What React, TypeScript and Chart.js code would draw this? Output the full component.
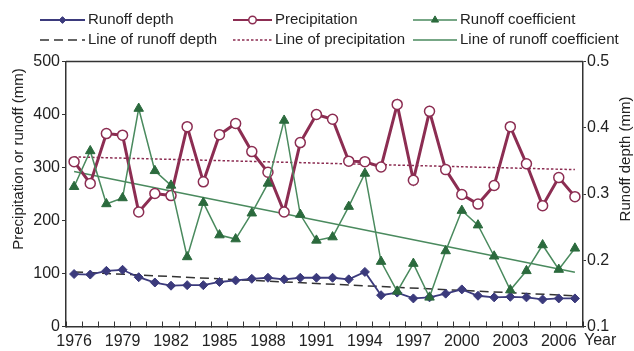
import React, { useEffect, useRef } from 'react';
import { Chart, registerables } from 'chart.js';
import { drawPoint } from 'chart.js/helpers';

Chart.register(...registerables);

const years = [
  '1976', '1977', '1978', '1979', '1980', '1981', '1982', '1983', '1984', '1985',
  '1986', '1987', '1988', '1989', '1990', '1991', '1992', '1993', '1994', '1995',
  '1996', '1997', '1998', '1999', '2000', '2001', '2002', '2003', '2004', '2005',
  '2006', '2007',
];

const runoffDepth = [
  99, 98, 105, 107, 93, 83, 77, 78, 78, 84,
  87, 90, 92, 89, 92, 92, 92, 89, 103, 59,
  64, 53, 55, 62, 70, 58, 55, 56, 55, 51,
  53, 53,
];

const precipitation = [
  311, 270, 364, 361, 216, 251, 247, 377, 273, 362,
  383, 330, 291, 216, 347, 400, 391, 312, 311, 301,
  419, 276, 406, 296, 249, 231, 266, 377, 307, 228,
  281, 245,
];

const runoffCoefficient = [
  0.311, 0.365, 0.285, 0.294, 0.429, 0.335, 0.313, 0.205, 0.287, 0.238,
  0.232, 0.271, 0.316, 0.411, 0.269, 0.23, 0.235, 0.281, 0.331, 0.198,
  0.153, 0.195, 0.144, 0.214, 0.275, 0.253, 0.206, 0.155, 0.184, 0.223,
  0.186, 0.218,
];

// Linear trend lines: values at the first and last year
const runoffDepthTrendEnds = [103, 58];
const precipitationTrendEnds = [320, 296];
const runoffCoefficientTrendEnds = [0.334, 0.182];

const leftTicks = [0, 100, 200, 300, 400, 500];
const rightTicks = [0.1, 0.2, 0.3, 0.4, 0.5];

const seriesLabels = [
  'Runoff depth',
  'Precipitation',
  'Runoff coefficient',
  'Line of runoff depth',
  'Line of precipitation',
  'Line of runoff coefficient',
];
const leftTitle = 'Precipitation or runoff (mm)';
const rightTitle = 'Runoff depth (mm)';
const xTitle = 'Year';

const FONT = '"Liberation Sans", Arial, Helvetica, sans-serif';
const TEXT = '#222';
const AXIS = '#333';
const BLUE = '#3b3a7c';
const MAROON = '#8c2d52';
const GREEN = '#4a8a5e';
const GREEN_DARK = '#2b6a3d';

function trendSeries(ends: number[]) {
  return years.map((_, i) => (i === 0 ? ends[0] : i === years.length - 1 ? ends[1] : null));
}

const overlayPlugin = {
  id: 'overlay',
  afterDraw(chart: any) {
    const ctx: CanvasRenderingContext2D = chart.ctx;
    const area = chart.chartArea;
    ctx.save();
    // top border of the plot box
    ctx.strokeStyle = AXIS;
    ctx.lineWidth = 1.5;
    ctx.beginPath();
    ctx.moveTo(area.left, area.top);
    ctx.lineTo(area.right, area.top);
    ctx.stroke();

    // legend
    const colX = [40, 233, 413];
    const colLen = [45, 39, 44];
    const colText = [88, 275, 460];
    const rowY = [20, 40];
    ctx.font = `15px ${FONT}`;
    ctx.textBaseline = 'middle';
    ctx.textAlign = 'left';
    chart.data.datasets.forEach((ds: any, i: number) => {
      const c = i % 3;
      const r = Math.floor(i / 3);
      const y = rowY[r];
      const x0 = colX[c];
      const x1 = x0 + colLen[c];
      ctx.save();
      ctx.strokeStyle = ds.borderColor;
      ctx.lineWidth = Math.min(ds.borderWidth, 2);
      ctx.setLineDash(ds.borderDash || []);
      ctx.beginPath();
      ctx.moveTo(x0, y);
      ctx.lineTo(x1, y);
      ctx.stroke();
      ctx.setLineDash([]);
      if (ds.pointRadius > 0) {
        ctx.fillStyle = ds.pointBackgroundColor;
        ctx.strokeStyle = ds.pointBorderColor;
        ctx.lineWidth = ds.pointBorderWidth;
        drawPoint(
          ctx,
          { pointStyle: ds.pointStyle, radius: ds.pointRadius * 0.75, rotation: 0, borderWidth: ds.pointBorderWidth },
          (x0 + x1) / 2,
          y
        );
      }
      ctx.restore();
      ctx.fillStyle = TEXT;
      ctx.fillText(ds.label, colText[c], y);
    });

    // axis titles
    ctx.font = `15px ${FONT}`;
    ctx.fillStyle = TEXT;
    ctx.textAlign = 'center';
    ctx.textBaseline = 'middle';
    ctx.save();
    ctx.translate(19, 159);
    ctx.rotate(-Math.PI / 2);
    ctx.fillText(leftTitle, 0, 0);
    ctx.restore();
    ctx.save();
    ctx.translate(626, 159);
    ctx.rotate(-Math.PI / 2);
    ctx.fillText(rightTitle, 0, 0);
    ctx.restore();

    ctx.font = `16px ${FONT}`;
    ctx.textAlign = 'left';
    ctx.fillText(xTitle, 584, 341);
    ctx.restore();
  },
};

export default function App() {
  const ref = useRef<HTMLCanvasElement | null>(null);

  useEffect(() => {
    document.body.style.margin = '0';
    if (!ref.current) return;
    const chart = new Chart(ref.current, {
      type: 'line',
      data: {
        labels: years,
        datasets: [
          {
            label: seriesLabels[0],
            data: runoffDepth,
            yAxisID: 'y',
            borderColor: BLUE,
            borderWidth: 1.8,
            pointStyle: 'rectRot',
            pointRadius: 4.5,
            pointBackgroundColor: BLUE,
            pointBorderColor: BLUE,
            pointBorderWidth: 1,
            order: 2,
          },
          {
            label: seriesLabels[1],
            data: precipitation,
            yAxisID: 'y',
            borderColor: MAROON,
            borderWidth: 3,
            pointStyle: 'circle',
            pointRadius: 5,
            pointBackgroundColor: '#ffffff',
            pointBorderColor: MAROON,
            pointBorderWidth: 1.5,
            order: 3,
          },
          {
            label: seriesLabels[2],
            data: runoffCoefficient,
            yAxisID: 'y1',
            borderColor: GREEN,
            borderWidth: 1.5,
            pointStyle: 'triangle',
            pointRadius: 5.5,
            pointBackgroundColor: GREEN_DARK,
            pointBorderColor: GREEN_DARK,
            pointBorderWidth: 1,
            order: 1,
          },
          {
            label: seriesLabels[3],
            data: trendSeries(runoffDepthTrendEnds),
            yAxisID: 'y',
            borderColor: AXIS,
            borderWidth: 1.5,
            borderDash: [9, 5],
            pointRadius: 0,
            spanGaps: true,
            order: 4,
          },
          {
            label: seriesLabels[4],
            data: trendSeries(precipitationTrendEnds),
            yAxisID: 'y',
            borderColor: MAROON,
            borderWidth: 1.5,
            borderDash: [2.5, 2],
            pointRadius: 0,
            spanGaps: true,
            order: 5,
          },
          {
            label: seriesLabels[5],
            data: trendSeries(runoffCoefficientTrendEnds),
            yAxisID: 'y1',
            borderColor: GREEN,
            borderWidth: 1.5,
            pointRadius: 0,
            spanGaps: true,
            order: 6,
          },
        ] as any,
      },
      options: {
        animation: false,
        responsive: true,
        maintainAspectRatio: false,
        layout: { padding: { top: 61.5, left: 0, right: 0, bottom: 0 } },
        plugins: {
          legend: { display: false },
          tooltip: { enabled: false },
        },
        scales: {
          x: {
            type: 'category',
            offset: true,
            grid: {
              offset: true,
              drawOnChartArea: false,
              drawTicks: true,
              tickLength: -5,
              color: AXIS,
              lineWidth: 1,
            },
            border: { color: AXIS, width: 1.5 },
            ticks: {
              autoSkip: false,
              maxRotation: 0,
              minRotation: 0,
              padding: 10,
              color: TEXT,
              font: { family: FONT, size: 16 },
              callback: (_v: any, i: number) => (i % 3 === 0 ? years[i] : ''),
            },
            afterFit: (s: any) => {
              s.height = 24.5;
            },
          } as any,
          y: {
            position: 'left',
            min: 0,
            max: 500,
            afterBuildTicks: (s: any) => {
              s.ticks = leftTicks.map((v) => ({ value: v }));
            },
            grid: { drawOnChartArea: false, drawTicks: true, tickLength: 4, color: AXIS },
            border: { color: AXIS, width: 1.5 },
            ticks: {
              padding: 2,
              color: TEXT,
              font: { family: FONT, size: 16 },
              callback: (v: any) => String(v),
            },
            afterFit: (s: any) => {
              s.width = 66;
            },
          } as any,
          y1: {
            position: 'right',
            min: 0.1,
            max: 0.5,
            afterBuildTicks: (s: any) => {
              s.ticks = rightTicks.map((v) => ({ value: v }));
            },
            grid: { drawOnChartArea: false, drawTicks: true, tickLength: 3, color: AXIS },
            border: { color: AXIS, width: 1.5 },
            ticks: {
              padding: 1,
              color: TEXT,
              font: { family: FONT, size: 16 },
              callback: (v: any) => Number(v).toFixed(1),
            },
            afterFit: (s: any) => {
              s.width = 51;
            },
          } as any,
        },
      },
      plugins: [overlayPlugin],
    });
    return () => chart.destroy();
  }, []);

  return (
    <div style={{ width: 634, height: 351, position: 'relative', background: '#fff' }}>
      <canvas ref={ref} />
    </div>
  );
}
